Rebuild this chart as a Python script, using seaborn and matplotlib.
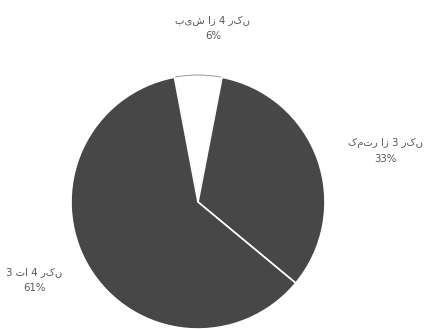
import numpy as np
import matplotlib
matplotlib.use("Agg")
import matplotlib.pyplot as plt
import seaborn as sns

categories = ["بیش از 4 رکن", "کمتر از 3 رکن", "3 تا 4 رکن"]
values = [6, 33, 61]
pct_labels = ["6%", "33%", "61%"]

sns.set_theme(style="white")
plt.rcParams['font.family'] = ['DejaVu Sans']

colors = ["#ffffff", "#474747", "#474747"]

fig = plt.figure(figsize=(4.25, 3.29), dpi=100)
ax = fig.add_axes([0, 0, 1, 1])
wedges, _ = ax.pie(values, colors=colors, startangle=100.7, counterclock=False,
                   wedgeprops=dict(edgecolor="white", linewidth=1.2))
wedges[0].set_edgecolor("#888888")
wedges[0].set_linewidth(0.6)

label_dist = [1.375, 1.53, 1.43]
label_shift = [-4.8, -4.4, -5.1]  # degrees offset from mid angle
for w, cat, pct, d, s in zip(wedges, categories, pct_labels, label_dist, label_shift):
    mid = np.deg2rad((w.theta1 + w.theta2) / 2 + s)
    x, y = d * np.cos(mid), d * np.sin(mid)
    ax.text(x, y, f"{cat}\n{pct}", ha="center", va="center", fontsize=7.3,
            color="#555555", linespacing=1.75)

ax.set_xlim(-198 / 127, (425 - 198) / 127)
ax.set_ylim(-127 / 127, 202 / 127)
ax.set_aspect("equal")
ax.axis("off")
fig.savefig("out.png", dpi=100)
